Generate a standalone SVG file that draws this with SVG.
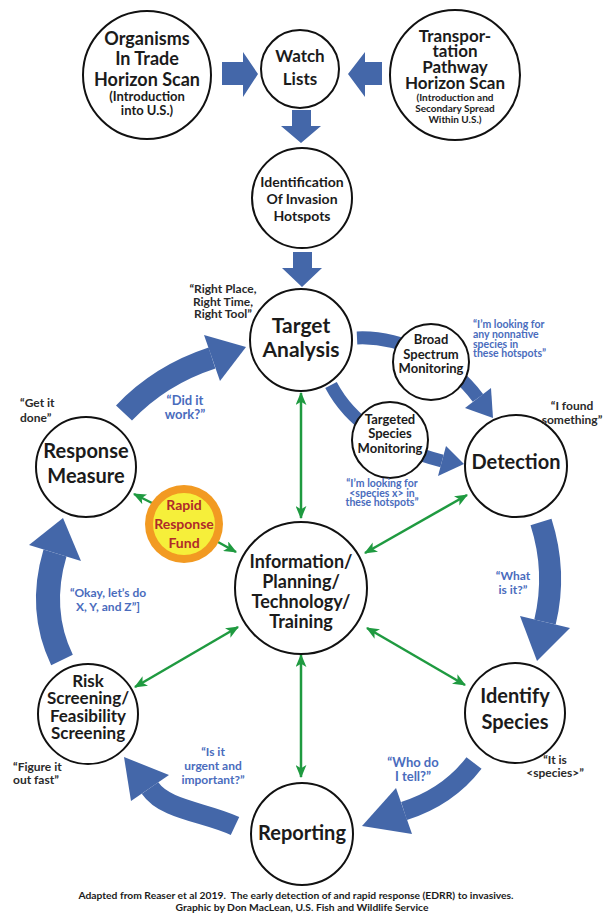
<svg xmlns="http://www.w3.org/2000/svg" width="605" height="915" viewBox="0 0 605 915">
<defs>
<marker id="gh" viewBox="0 0 12 10" refX="11" refY="5" markerWidth="13" markerHeight="11" markerUnits="userSpaceOnUse" orient="auto-start-reverse">
<path d="M0,0 L12,5 L0,10 L3,5 Z" fill="#1f9a40"/>
</marker>
</defs>
<style>
text{font-family:Lato,"Open Sans","Liberation Sans",sans-serif;font-weight:700;text-anchor:middle}
.c{fill:#fff;stroke:#111;stroke-width:2}
.n{fill:#1b1b1b}
.q{fill:#2a2a2a;font-size:12px}
.b{fill:#4a6cbd}
.band{fill:none;stroke:#4467a9;stroke-linecap:butt}
.hd{fill:#4467a9}
.g{stroke:#1f9a40;stroke-width:2.5;fill:none}
</style>
<rect width="605" height="915" fill="#fff"/>

<g id="connectors">
<polygon class="hd" points="222,62 243,62 243,52 258,74 243,97 243,85 222,85"/>
<polygon class="hd" points="382,62 365,62 365,52 348,74 365,97 365,85 382,85"/>
<polygon class="hd" points="292,110 311,110 311,126 321,126 301,143 281,126 292,126"/>
<polygon class="hd" points="293,252 312,252 312,268 322,268 302,287 282,268 293,268"/>

<path class="band" stroke-width="22" d="M124,413 Q160,375 212,358"/>
<polygon class="hd" points="204,335 220,381 246,347"/>

<path class="band" stroke-width="13" d="M357,338 C400,336 450,360 478,398"/>
<polygon class="hd" points="491,388 465,408 493,418"/>

<path class="band" stroke-width="13" d="M331,385 Q360,440 442,461"/>
<polygon class="hd" points="438,476 446,446 464,464"/>

<path class="band" stroke-width="22" d="M541,522 Q557,572 545,622"/>
<polygon class="hd" points="570,628 520,616 537,661"/>

<path class="band" stroke-width="19" d="M474,763 Q448,797 404,811"/>
<polygon class="hd" points="412,834 396,788 362,826"/>

<path class="band" stroke-width="20" d="M235,826 C205,812 165,810 150,788"/>
<polygon class="hd" points="169,775 131,801 124,757"/>

<path class="band" stroke-width="24" d="M62,660 Q38,610 55,553"/>
<polygon class="hd" points="81,561 29,545 63,518"/>

<line class="g" x1="301" y1="393" x2="301" y2="518" marker-start="url(#gh)" marker-end="url(#gh)"/>
<line class="g" x1="467" y1="495" x2="365" y2="553" marker-start="url(#gh)" marker-end="url(#gh)"/>
<line class="g" x1="367" y1="628" x2="465" y2="685" marker-start="url(#gh)" marker-end="url(#gh)"/>
<line class="g" x1="238" y1="627" x2="135" y2="687" marker-start="url(#gh)" marker-end="url(#gh)"/>
<line class="g" x1="301" y1="655" x2="301" y2="777" marker-start="url(#gh)" marker-end="url(#gh)"/>
<line class="g" x1="152" y1="503" x2="134" y2="494" marker-end="url(#gh)"/>
<line class="g" x1="218" y1="542" x2="236" y2="552" marker-end="url(#gh)"/>
</g>

<g id="organisms">
<circle class="c" cx="147" cy="75" r="64"/>
<text class="n" font-size="18"><tspan x="147" y="45">Organisms</tspan><tspan x="147" y="65">In Trade</tspan><tspan x="147" y="86">Horizon Scan</tspan></text>
<text class="n" font-size="13"><tspan x="147" y="101">(Introduction</tspan><tspan x="147" y="115">into U.S.)</tspan></text>
</g>

<g id="watch">
<circle class="c" cx="300" cy="69" r="39"/>
<text class="n" font-size="17"><tspan x="300" y="62">Watch</tspan><tspan x="300" y="85">Lists</tspan></text>
</g>

<g id="transport">
<circle class="c" cx="455" cy="75" r="65"/>
<text class="n" font-size="17"><tspan x="455" y="42">Transpor-</tspan><tspan x="455" y="57">tation</tspan><tspan x="455" y="73">Pathway</tspan><tspan x="455" y="89">Horizon Scan</tspan></text>
<text class="n" font-size="10"><tspan x="455" y="101">(Introduction and</tspan><tspan x="455" y="112">Secondary Spread</tspan><tspan x="455" y="123">Within U.S.)</tspan></text>
</g>

<g id="hotspots">
<circle class="c" cx="302" cy="198" r="50"/>
<text class="n" font-size="14"><tspan x="302" y="187">Identification</tspan><tspan x="302" y="204">Of Invasion</tspan><tspan x="302" y="221">Hotspots</tspan></text>
</g>

<g id="target">
<circle class="c" cx="301" cy="340" r="51"/>
<text class="n" font-size="21"><tspan x="301" y="333">Target</tspan><tspan x="301" y="357">Analysis</tspan></text>
<text class="q"><tspan x="223" y="293">“Right Place,</tspan><tspan x="223" y="306">Right Time,</tspan><tspan x="223" y="318">Right Tool”</tspan></text>
</g>

<g id="broad">
<circle class="c" cx="431" cy="362" r="38"/>
<text class="n" font-size="13"><tspan x="431" y="344">Broad</tspan><tspan x="431" y="359">Spectrum</tspan><tspan x="431" y="373">Monitoring</tspan></text>
<text class="b" font-size="10.5" style="text-anchor:start"><tspan x="473" y="328">“I’m looking for</tspan><tspan x="473" y="338">any nonnative</tspan><tspan x="473" y="348">species in</tspan><tspan x="473" y="357">these hotspots”</tspan></text>
</g>

<g id="targeted">
<circle class="c" cx="390" cy="440" r="38"/>
<text class="n" font-size="13"><tspan x="390" y="424">Targeted</tspan><tspan x="390" y="438">Species</tspan><tspan x="390" y="453">Monitoring</tspan></text>
<text class="b" font-size="10.5"><tspan x="382" y="487">“I’m looking for</tspan><tspan x="382" y="497">&lt;species x&gt; in</tspan><tspan x="382" y="506">these hotspots”</tspan></text>
</g>

<g id="detection">
<circle class="c" cx="516" cy="466" r="51"/>
<text class="n" font-size="20" x="516" y="469">Detection</text>
<text class="q"><tspan x="572" y="410">“I found</tspan><tspan x="572" y="424">something”</tspan></text>
<text class="b" font-size="12"><tspan x="513" y="580">“What</tspan><tspan x="513" y="594">is it?”</tspan></text>
</g>

<g id="response">
<circle class="c" cx="86" cy="467" r="50"/>
<text class="n" font-size="20"><tspan x="86" y="458">Response</tspan><tspan x="86" y="483">Measure</tspan></text>
<text class="q" style="text-anchor:start"><tspan x="20" y="407">“Get it</tspan><tspan x="20" y="422">done”</tspan></text>
<text class="b" font-size="13"><tspan x="185" y="405">“Did it</tspan><tspan x="185" y="419">work?”</tspan></text>
</g>

<g id="fund">
<circle cx="184" cy="524" r="39" fill="#f29a22"/>
<circle cx="184" cy="524" r="31" fill="#f6ef3a"/>
<text font-size="14" fill="#b02a2a"><tspan x="184" y="510">Rapid</tspan><tspan x="184" y="529">Response</tspan><tspan x="184" y="548">Fund</tspan></text>
</g>

<g id="info">
<circle class="c" cx="301" cy="588" r="66"/>
<text class="n" font-size="18"><tspan x="301" y="568">Information/</tspan><tspan x="301" y="588">Planning/</tspan><tspan x="301" y="608">Technology/</tspan><tspan x="301" y="628">Training</tspan></text>
</g>

<g id="risk">
<circle class="c" cx="88" cy="714" r="50"/>
<text class="n" font-size="17"><tspan x="88" y="687">Risk</tspan><tspan x="88" y="704">Screening/</tspan><tspan x="88" y="722">Feasibility</tspan><tspan x="88" y="739">Screening</tspan></text>
<text class="b" font-size="12"><tspan x="108" y="597">“Okay, let’s do</tspan><tspan x="108" y="611">X, Y, and Z”]</tspan></text>
<text class="q" style="text-anchor:start"><tspan x="13" y="771">“Figure it</tspan><tspan x="13" y="784">out fast”</tspan></text>
</g>

<g id="identify">
<circle class="c" cx="515" cy="713" r="50"/>
<text class="n" font-size="20"><tspan x="515" y="703">Identify</tspan><tspan x="515" y="729">Species</tspan></text>
<text class="q"><tspan x="555" y="764">“It is</tspan><tspan x="555" y="777">&lt;species&gt;”</tspan></text>
</g>

<g id="reporting">
<circle class="c" cx="302" cy="834" r="51"/>
<text class="n" font-size="20" x="302" y="840">Reporting</text>
<text class="b" font-size="12"><tspan x="213" y="756">“Is it</tspan><tspan x="213" y="770">urgent and</tspan><tspan x="213" y="784">important?”</tspan></text>
<text class="b" font-size="13"><tspan x="413" y="767">“Who do</tspan><tspan x="413" y="781">I tell?”</tspan></text>
</g>

<g id="footer">
<text class="n" font-size="10.3" xml:space="preserve"><tspan x="296" y="899">Adapted from Reaser et al 2019.  The early detection of and rapid response (EDRR) to invasives.</tspan><tspan x="302" y="911">Graphic by Don MacLean, U.S. Fish and Wildlife Service</tspan></text>
</g>
</svg>
